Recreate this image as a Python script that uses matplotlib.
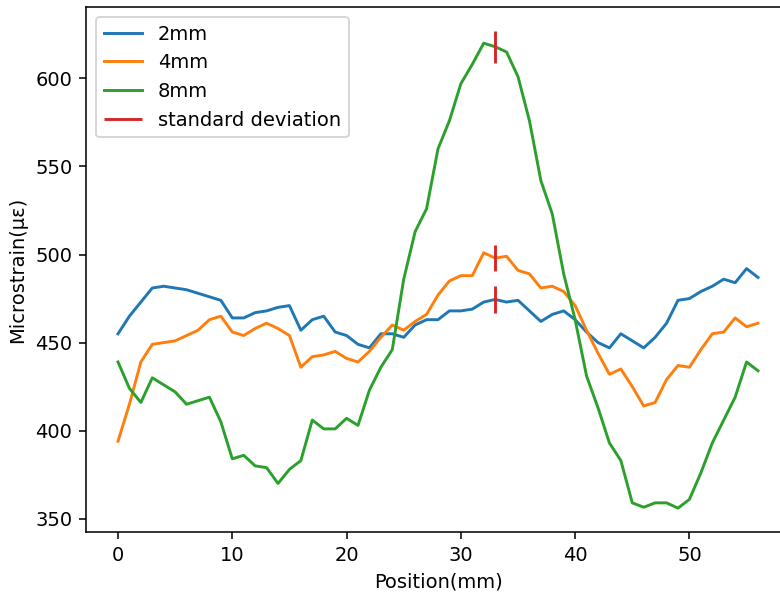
import numpy as np
import matplotlib
matplotlib.use("Agg")
import matplotlib.pyplot as plt

position = np.arange(0, 57)

strain_2mm = [455, 465, 473, 481, 482, 481, 480, 478, 476, 474,
              464, 464, 467, 468, 470, 471, 457, 463, 465, 456,
              454, 449, 447, 455, 455, 453, 460, 463, 463, 468,
              468, 469, 473, 474.5, 473, 474, 468, 462, 466, 468,
              463, 456, 450, 447, 455, 451, 447, 453, 461, 474,
              475, 479, 482, 486, 484, 492, 487]

strain_4mm = [394, 415, 439, 449, 450, 451, 454, 457, 463, 465,
              456, 454, 458, 461, 458, 454, 436, 442, 443, 445,
              441, 439, 445, 453, 460, 457, 462, 466, 477, 485,
              488, 488, 501, 498, 499, 491, 489, 481, 482, 479,
              471, 457, 444, 432, 435, 425, 414, 416, 429, 437,
              436, 446, 455, 456, 464, 459, 461]

strain_8mm = [439, 424, 416, 430, 426, 422, 415, 417, 419, 405,
              384, 386, 380, 379, 370, 378, 383, 406, 401, 401,
              407, 403, 423, 436, 446, 486, 513, 526, 560, 576,
              597, 608, 620, 618, 615, 601, 576, 542, 523, 489,
              463, 431, 413, 393, 383, 359, 356.5, 359, 359, 356,
              361, 376, 393, 406, 419, 439, 434]

# standard deviation markers at x = 33
std_x = 33
std_8mm = 9
std_4mm = 7.5
std_2mm = 7.5

dpi = 140
fig = plt.figure(figsize=(780 / dpi, 596 / dpi), dpi=dpi)
ax = fig.add_axes([86 / 780, 64 / 596, 704 / 780, 525 / 596])

ax.plot(position, strain_2mm, label="2mm")
ax.plot(position, strain_4mm, label="4mm")
ax.plot(position, strain_8mm, label="8mm")

centers = [strain_8mm[std_x], strain_4mm[std_x], strain_2mm[std_x]]
stds = [std_8mm, std_4mm, std_2mm]
ax.vlines([std_x] * 3,
          [c - s for c, s in zip(centers, stds)],
          [c + s for c, s in zip(centers, stds)],
          colors="tab:red", linewidth=1.5, label="standard deviation")

ax.set_xlabel("Position(mm)")
ax.set_ylabel("Microstrain(με)")
ax.legend(loc="upper left")

fig.savefig("out.png", dpi=dpi)
